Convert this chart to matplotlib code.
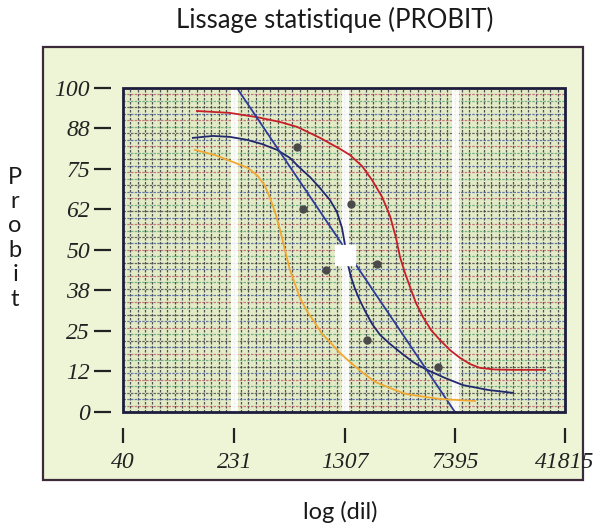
import numpy as np
import matplotlib
matplotlib.use("Agg")
import matplotlib.pyplot as plt
from matplotlib.patches import Rectangle

# ---------------- data ----------------
x_ticks = [40, 231, 1307, 7395, 41815]
x_tick_labels = ['40', '231', '1307', '7395', '41815']
y_ticks = [0, 12.5, 25, 37.5, 50, 62.5, 75, 87.5, 100]
y_tick_labels = ['0', '12', '25', '38', '50', '62', '75', '88', '100']

red_dil = [128, 215, 329, 473, 618, 887, 1214, 1421, 1717, 2010, 2351, 2666, 2931, 3121,
           3376, 3651, 4013, 4480, 5081, 5855, 6849, 8020, 9384, 10982, 13905, 18455, 30527]
red_val = [92.9, 92.3, 91.0, 89.5, 88.0, 84.6, 81.2, 79.3, 75.9, 71.6, 66.4, 60.5, 53.7, 47.8,
           42.9, 38.6, 33.6, 29.3, 25.3, 22.2, 19.1, 16.7, 14.8, 13.6, 13.1, 13.0, 13.0]

blue_dil = [120, 165, 215, 281, 356, 451, 553, 647, 758, 887, 1038, 1158, 1253, 1314, 1377,
            1443, 1537, 1664, 1799, 2010, 2279, 2666, 3121, 3829, 4771, 6334, 8405, 12452, 18455]
blue_val = [84.6, 85.2, 84.9, 84.0, 82.7, 80.9, 78.4, 75.3, 72.5, 69.1, 65.4, 61.7, 56.8, 51.5, 45.4,
            41.7, 38.0, 34.3, 31.2, 27.2, 23.8, 21.0, 18.5, 15.4, 13.0, 10.5, 8.3, 6.8, 5.9]

orange_dil = [124, 170, 233, 286, 334, 373, 404, 437, 473, 511, 553, 598, 647, 734, 820, 915,
              1038, 1214, 1421, 1717, 2106, 2666, 3376, 4274, 5855, 10151]
orange_val = [80.9, 79.3, 76.9, 75.3, 72.8, 69.8, 66.0, 61.7, 56.2, 50.0, 43.8, 39.5, 35.2, 30.6,
              27.5, 24.1, 21.6, 18.2, 15.4, 12.3, 9.3, 7.4, 5.6, 4.9, 4.0, 3.4]

line_dil = [240, 7400]
line_val = [100, 0]

pts_dil = [618, 679, 1443, 974, 2173, 1857, 5674]
pts_val = [81.8, 62.7, 64.2, 43.8, 45.7, 22.2, 13.9]

center_dil = [1314]
center_val = [48.5]

band_dil = [231, 1307, 7395]

# ---------------- figure ----------------
fig = plt.figure(figsize=(6, 5.29), dpi=100)
fig.patch.set_facecolor('white')

panel = Rectangle((0.0717, 0.0926), 0.900, 0.8186, transform=fig.transFigure,
                  facecolor='#eef5d6', edgecolor='#3a2a3a', lw=1.6, zorder=-10)
fig.patches.append(panel)

ax = fig.add_axes([0.205, 0.2212, 0.7367, 0.6125])
ax.set_zorder(1)
ax.set_facecolor('#e2ebc6')
ax.set_xscale('log')
ax.set_xlim(40, 41815)
ax.set_ylim(0, 100)

# dense "paper" grid in axes coordinates
vx = np.linspace(0, 1, 61)[1:-1]
ax.vlines(vx, 0, 1, transform=ax.transAxes, colors='#2a2a3a', lw=0.9,
          linestyles=(0, (2.0, 1.2)), alpha=0.8, zorder=1)
hy = np.linspace(0, 1, 51)[1:-1]
hcols = ['#c05060', '#3a50a0', '#3a3a3a', '#50a070']
for i, yy in enumerate(hy):
    ax.hlines(yy, 0, 1, transform=ax.transAxes, colors=hcols[i % 4], lw=0.9,
              linestyles=(0, (2.0, 1.0)), alpha=0.75, zorder=1)

for b in band_dil:
    ax.axvline(b, color='white', lw=5, alpha=0.9, zorder=1.5)

ax.plot(red_dil, red_val, color='#c8202a', lw=1.3, zorder=3)
ax.plot(blue_dil, blue_val, color='#22286e', lw=1.3, zorder=3)
ax.plot(line_dil, line_val, color='#2c3c98', lw=1.3, zorder=3)
ax.plot(orange_dil, orange_val, color='#f2a830', lw=1.3, zorder=3)
ax.plot(pts_dil, pts_val, 'o', color='#4a4a4a', ms=5, zorder=4)
ax.plot(center_dil, center_val, 's', color='white', ms=14, zorder=5)

border = Rectangle((0, 0), 1, 1, transform=ax.transAxes, fill=False,
                   edgecolor='#1c1c3c', lw=2, zorder=6, clip_on=False)
ax.add_patch(border)

for s in ['top', 'right']:
    ax.spines[s].set_visible(False)
ax.spines['left'].set_position(('outward', 8.6))
ax.spines['bottom'].set_position(('outward', 11.5))
ax.spines['left'].set_visible(False)
ax.spines['bottom'].set_visible(False)

ax.set_xticks(x_ticks)
ax.set_xticklabels(x_tick_labels)
ax.xaxis.set_minor_locator(matplotlib.ticker.NullLocator())
ax.set_yticks(y_ticks)
ax.set_yticklabels(y_tick_labels)

for lab in ax.get_xticklabels() + ax.get_yticklabels():
    lab.set_fontfamily('Liberation Serif')
    lab.set_fontstyle('italic')
    lab.set_fontsize(17)
    lab.set_color('#222222')

ax.tick_params(axis='x', direction='out', length=11, width=1.6, pad=6, colors='#222222')
ax.tick_params(axis='y', direction='out', length=12, width=1.6, pad=3, colors='#222222')

fig.text(0.557, 0.962, 'Lissage statistique (PROBIT)', ha='center', va='center',
         fontsize=18.5, family='Lato', color='#1a1a1a')
fig.text(0.567, 0.032, 'log (dil)', ha='center', va='center',
         fontsize=17, family='Lato', color='#1a1a1a')
fig.text(0.025, 0.55, 'P\nr\no\nb\ni\nt', ha='center', va='center',
         fontsize=17, family='Lato', color='#1a1a1a', linespacing=1.2)

fig.savefig('out.png', dpi=100)
